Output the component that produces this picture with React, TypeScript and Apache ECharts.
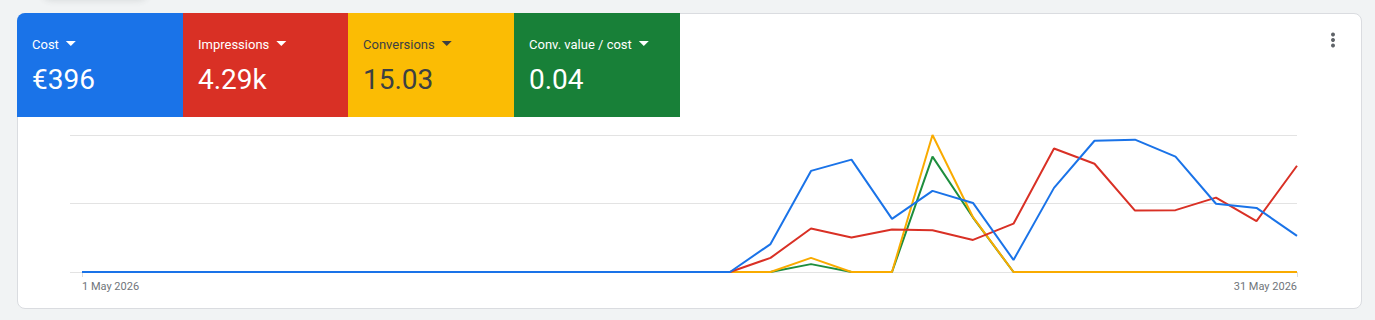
import React, { useEffect, useRef } from "react";
import * as echarts from "echarts";

// ---- data ----
const days = [1, 2, 3, 4, 5, 6, 7, 8, 9, 10, 11, 12, 13, 14, 15, 16, 17, 18, 19, 20, 21, 22, 23, 24, 25, 26, 27, 28, 29, 30, 31];
const tickDays = [1, 31];
const tickLabels = ["1 May 2026", "31 May 2026"];

const cost = [0, 0, 0, 0, 0, 0, 0, 0, 0, 0, 0, 0, 0, 0, 0, 0, 0, 10.2, 36.9, 41.0, 19.4, 29.6, 25.2, 4.4, 30.7, 47.9, 48.3, 42.1, 24.9, 23.4, 13.2];
const impressions = [0, 0, 0, 0, 0, 0, 0, 0, 0, 0, 0, 0, 0, 0, 0, 0, 0, 72, 222, 176, 217, 213, 164, 247, 631, 553, 314, 316, 380, 260, 543];
const conversions = [0, 0, 0, 0, 0, 0, 0, 0, 0, 0, 0, 0, 0, 0, 0, 0, 0, 0, 1.03, 0, 0, 10.0, 4.0, 0, 0, 0, 0, 0, 0, 0, 0];
const convValuePerCost = [0, 0, 0, 0, 0, 0, 0, 0, 0, 0, 0, 0, 0, 0, 0, 0, 0, 0, 0.023, 0, 0, 0.337, 0.159, 0, 0, 0, 0, 0, 0, 0, 0];

const metricNames = ["Cost", "Impressions", "Conversions", "Conv. value / cost"];
const metricTotals = ["€396", "4.29k", "15.03", "0.04"];
const tileColors = ["#1a73e8", "#d93025", "#fbbc04", "#188038"];
const tileTextColors = ["#ffffff", "#ffffff", "#3c4043", "#ffffff"];
const lineColors = ["#1a73e8", "#d93025", "#f9ab00", "#1e8e3e"];
const axisMax = [50, 700, 10, 0.4];

export default function App() {
  const ref = useRef<HTMLDivElement>(null);

  useEffect(() => {
    if (!ref.current) return;
    const chart = echarts.init(ref.current, null, { renderer: "svg" });

    const canvas = document.createElement("canvas");
    const ctx = canvas.getContext("2d")!;
    ctx.font = "13px Roboto";

    const tileX = [17, 183, 348, 514, 680];
    const graphics: any[] = [];
    metricNames.forEach((name, i) => {
      const x0 = tileX[i];
      const w = tileX[i + 1] - x0;
      graphics.push({
        type: "rect",
        shape: { x: x0, y: 13, width: w, height: 104, r: i === 0 ? [8, 0, 0, 0] : 0 },
        style: { fill: tileColors[i] },
        silent: true,
      });
      graphics.push({
        type: "text",
        x: x0 + 15,
        y: 44,
        style: {
          text: name,
          fill: tileTextColors[i],
          font: "13px Roboto",
          verticalAlign: "middle",
          align: "left",
        },
        silent: true,
      });
      const tw = ctx.measureText(name).width;
      const tx = x0 + 15 + tw + 7;
      graphics.push({
        type: "polygon",
        shape: { points: [[tx, 41], [tx + 10, 41], [tx + 5, 46]] },
        style: { fill: tileTextColors[i] },
        silent: true,
      });
      graphics.push({
        type: "text",
        x: x0 + 15,
        y: 79,
        style: {
          text: metricTotals[i],
          fill: tileTextColors[i],
          font: "28px Roboto",
          verticalAlign: "middle",
          align: "left",
        },
        silent: true,
      });
    });
    [34.5, 40, 45.5].forEach((cy) => {
      graphics.push({
        type: "circle",
        shape: { cx: 1333, cy, r: 2 },
        style: { fill: "#5f6368" },
        silent: true,
      });
    });

    const seriesDefs = [
      { name: "Conv. value / cost", values: convValuePerCost, axis: 3, color: lineColors[3], z: 2 },
      { name: "Conversions", values: conversions, axis: 2, color: lineColors[2], z: 3 },
      { name: "Impressions", values: impressions, axis: 1, color: lineColors[1], z: 4 },
      { name: "Cost", values: cost, axis: 0, color: lineColors[0], z: 5 },
    ];

    const yAxes = axisMax.map((mx, i) => ({
      type: "value",
      min: 0,
      max: mx,
      interval: mx / 2,
      position: "left",
      axisLabel: { show: false },
      axisLine: { show: false },
      axisTick: { show: false },
      splitLine: i === 0 ? { show: true, lineStyle: { color: "#e3e3e3", width: 1 } } : { show: false },
    }));

    chart.setOption({
      animation: false,
      backgroundColor: "transparent",
      grid: { left: 70, right: 78, top: 135, bottom: 48 },
      xAxis: {
        type: "value",
        min: 1 - 12 / 40.5,
        max: 31,
        axisLine: { show: false },
        splitLine: { show: false },
        axisTick: {
          show: true,
          customValues: tickDays,
          length: 5,
          lineStyle: { color: "#dadce0" },
        },
        axisLabel: {
          show: true,
          customValues: tickDays,
          formatter: (v: number) => tickLabels[tickDays.indexOf(v)] ?? "",
          color: "#70757a",
          fontFamily: "Roboto",
          fontSize: 11,
          margin: 9,
          alignMinLabel: "left",
          alignMaxLabel: "right",
        },
      },
      yAxis: yAxes,
      series: seriesDefs.map((s) => ({
        name: s.name,
        type: "line",
        yAxisIndex: s.axis,
        data: days.map((d, k) => [d, s.values[k]]),
        symbol: "none",
        z: s.z,
        lineStyle: { color: s.color, width: 2 },
        itemStyle: { color: s.color },
      })),
      graphic: graphics,
    });

    return () => chart.dispose();
  }, []);

  return (
    <div
      style={{
        position: "fixed",
        left: 0,
        top: 0,
        width: 1375,
        height: 320,
        background: "#f1f3f4",
        overflow: "hidden",
      }}
    >
      <div
        style={{
          position: "absolute",
          left: 40,
          top: -40,
          width: 110,
          height: 40,
          background: "#f1f3f4",
          borderRadius: 12,
          boxShadow: "0 1px 6px rgba(60,64,67,0.12)",
        }}
      />
      <div
        style={{
          position: "absolute",
          left: 17,
          top: 13,
          width: 1345,
          height: 296,
          background: "#ffffff",
          border: "1px solid #dadce0",
          borderRadius: 8,
          boxSizing: "border-box",
        }}
      />
      <div ref={ref} style={{ position: "absolute", left: 0, top: 0, width: 1375, height: 320 }} />
    </div>
  );
}
